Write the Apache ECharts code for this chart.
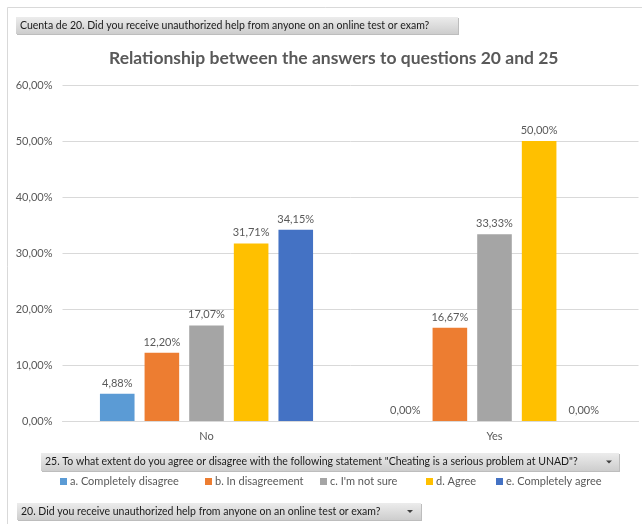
<!DOCTYPE html>
<html>
<head>
<meta charset="utf-8">
<script src="https://cdn.jsdelivr.net/npm/echarts@6/dist/echarts.min.js"></script>
<style>html,body{margin:0;padding:0;background:#fff;}#c{width:642px;height:524px;}</style>
</head>
<body>
<div id="c"></div>
<script>
const categories = ['No', 'Yes'];
const seriesNames = ['a. Completely disagree', 'b. In disagreement', "c. I'm not sure", 'd. Agree', 'e. Completely agree'];
const valuesA = [4.88, 0.00];
const valuesB = [12.20, 16.67];
const valuesC = [17.07, 33.33];
const valuesD = [31.71, 50.00];
const valuesE = [34.15, 0.00];
const seriesColors = ['#5b9bd5', '#ed7d31', '#a5a5a5', '#ffc000', '#4472c4'];
const titleText = 'Relationship between the answers to questions 20 and 25';
const topButtonText = 'Cuenta de 20. Did you receive unauthorized help from anyone on an online test or exam?';
const midButtonText = '25. To what extent do you agree or disagree with the following statement "Cheating is a serious problem at UNAD"?';
const bottomButtonText = '20. Did you receive unauthorized help from anyone on an online test or exam?';

const allValues = [valuesA, valuesB, valuesC, valuesD, valuesE];
const FONT = 'Lato';
const TXT = '#595959';
const fmt = v => v.toFixed(2).replace('.', ',') + '%';

const legendLefts = [60, 205, 320, 426, 496];

function button(x, y, w, h, text, arrowX) {
  const children = [
    { type: 'rect', shape: { x: x + 1, y: y + 1, width: w, height: h }, style: { fill: '#bdbdbd' } },
    { type: 'rect', shape: { x: x, y: y, width: w, height: h },
      style: { fill: { type: 'linear', x: 0, y: 0, x2: 0, y2: 1,
        colorStops: [{ offset: 0, color: '#ececec' }, { offset: 1, color: '#cdcdcd' }] } } },
    { type: 'text', x: x + 4, y: y + h / 2,
      style: { text: text, fill: '#1a1a1a', font: '10.5px ' + FONT, verticalAlign: 'middle' } }
  ];
  if (arrowX) {
    children.push({ type: 'polygon', shape: { points: [[arrowX - 3, y + h / 2 - 1.5], [arrowX + 3, y + h / 2 - 1.5], [arrowX, y + h / 2 + 1.5]] },
      style: { fill: '#404040' } });
  }
  return { type: 'group', children: children };
}

const chart = echarts.init(document.getElementById('c'));
chart.setOption({
  animation: false,
  backgroundColor: '#ffffff',
  title: {
    text: titleText, left: 104, top: 44,
    textStyle: { fontFamily: FONT, fontSize: 17.5, fontWeight: 'bold', color: TXT }
  },
  legend: seriesNames.map((n, i) => ({
    data: [n], left: legendLefts[i], top: 476, padding: 0,
    itemWidth: 7, itemHeight: 7, icon: 'rect', itemGap: 4,
    textStyle: { fontFamily: FONT, fontSize: 11, color: TXT, padding: [0, 0, 0, -2] }
  })),
  grid: { left: 62.5, right: 3.5, top: 85, bottom: 103 },
  xAxis: {
    type: 'category', data: categories,
    axisLine: { lineStyle: { color: '#d9d9d9' } },
    axisTick: { show: false },
    axisLabel: { fontFamily: FONT, fontSize: 11, color: TXT, margin: 10 }
  },
  yAxis: {
    type: 'value', min: 0, max: 60, interval: 10,
    axisLine: { show: false }, axisTick: { show: false },
    splitLine: { lineStyle: { color: '#d9d9d9' } },
    axisLabel: { fontFamily: FONT, fontSize: 11, color: TXT, margin: 10, formatter: fmt }
  },
  series: seriesNames.map((n, i) => ({
    name: n, type: 'bar', data: allValues[i],
    barGap: '29%', barCategoryGap: '26%',
    itemStyle: { color: seriesColors[i] },
    label: { show: true, position: 'top', distance: 5, fontFamily: FONT, fontSize: 11, color: TXT,
      formatter: p => fmt(p.value) }
  })),
  graphic: [
    { type: 'rect', shape: { x: 7.5, y: 7.5, width: 700, height: 600 }, style: { fill: 'none', stroke: '#d9d9d9', lineWidth: 1 }, silent: true },
    button(16, 17, 442, 17, topButtonText, null),
    button(41, 453, 578, 18, midButtonText, 609),
    button(17, 503, 404, 17, bottomButtonText, 410)
  ]
});
</script>
</body>
</html>
